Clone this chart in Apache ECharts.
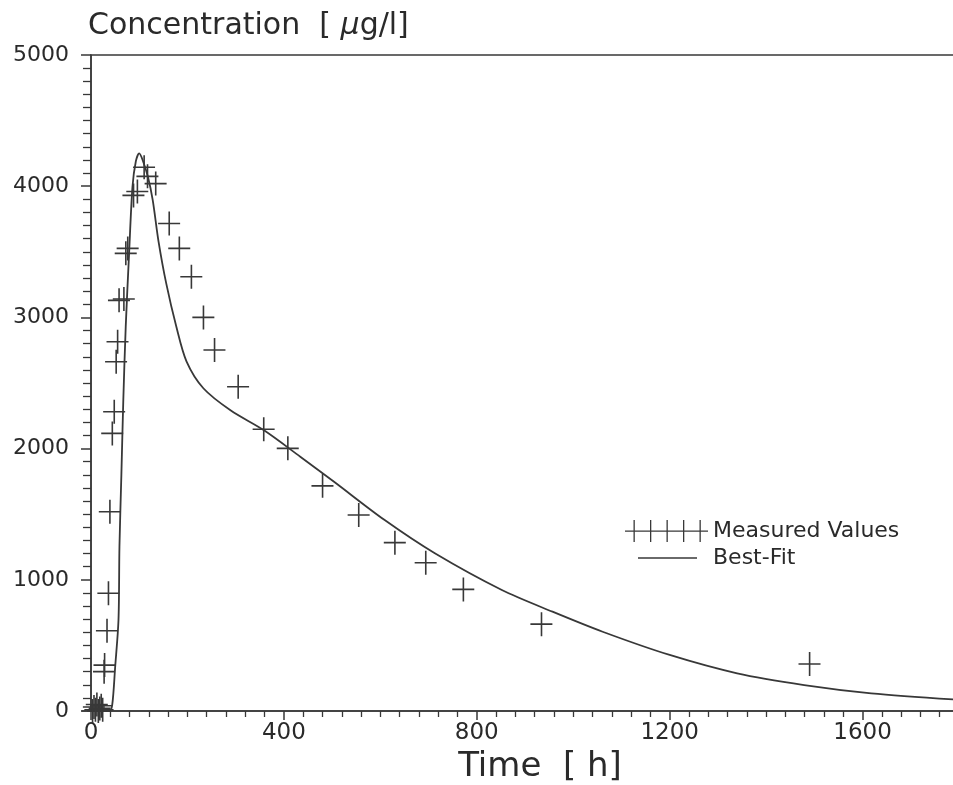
<!DOCTYPE html>
<html>
<head>
<meta charset="utf-8">
<title>Concentration over time</title>
<script src="https://cdn.jsdelivr.net/npm/echarts@6/dist/echarts.min.js"></script>
<style>
  html, body { margin: 0; padding: 0; background: #fff; }
  #main { width: 953px; height: 785px; }
</style>
</head>
<body>
<div id="main"></div>
<script>
// measured concentrations (time in h, conc in ug/l)
var measTime = [3, 6, 9, 12, 15, 18, 21, 24, 27, 28, 33, 36, 39, 44, 48, 52, 55, 58, 68, 72, 76,
  88, 96, 110, 117, 134, 162, 183, 208, 233, 256, 305, 358, 408, 480, 555, 630, 694, 772, 934, 1490];
var measConc = [0, 30, 10, 50, 0, 20, 40, 10, 300, 350, 612, 897, 1519, 2116, 2281, 2662, 2814, 3130, 3140, 3488, 3526,
  3930, 3960, 4145, 4075, 4020, 3716, 3526, 3310, 3000, 2751, 2471, 2147, 2002, 1716, 1494, 1283, 1130, 927, 662, 358];

// best-fit curve
var fitTime = [0, 38, 44, 50, 57, 59, 63, 67, 72, 79, 86, 93, 100, 107, 118, 128, 140, 156, 177, 198,
  233, 290, 358, 434, 504, 609, 713, 852, 957, 1061, 1200, 1340, 1479, 1618, 1800];
var fitConc = [0, 0, 46, 330, 693, 1252, 1800, 2370, 2928, 3488, 3995, 4190, 4250, 4200, 4072, 3894, 3580, 3259, 2928, 2665,
  2460, 2290, 2141, 1938, 1747, 1455, 1202, 922, 757, 604, 427, 287, 198, 135, 85];

var xTicks = [0, 1800, 400];   // min, max, interval
var yTicks = [0, 5000, 1000];

var ink = '#383838';
var txt = '#2a2a2a';
var font = 'DejaVu Sans';

var measured = measTime.map(function (t, i) { return [t, measConc[i]]; });
var fit = fitTime.map(function (t, i) { return [t, fitConc[i]]; });

// plus sign made of two thin bars
var crossPath = 'path://M10.3,0h1.6v24h-1.6zM0,11.2h22v1.6h-22z';
var legendCross = 'path://M0,10.4h83v1.3h-83z' +
  'M8.5,0h1.3v22h-1.3zM25,0h1.3v22h-1.3zM41.5,0h1.3v22h-1.3zM58,0h1.3v22h-1.3zM74.5,0h1.3v22h-1.3z';
var legendLine = 'path://M0,0h59v1.4h-59z';

function plain(v) { return String(v); }

var myChart = echarts.init(document.getElementById('main'));
myChart.setOption({
  backgroundColor: '#fff',
  animation: false,
  textStyle: { fontFamily: font, color: txt },
  grid: {
    // axis runs past the right edge of the picture (1800 sits off-page)
    left: 91, top: 55, width: 868, height: 656,
    outerBoundsMode: 'none',
    show: true, borderColor: ink, borderWidth: 1.5, backgroundColor: 'transparent'
  },
  legend: [
    {
      left: 620, top: 515, itemWidth: 83, itemHeight: 22,
      data: [{ name: 'Measured Values', icon: legendCross }],
      itemStyle: { color: ink },
      textStyle: { fontSize: 22, fontFamily: font, color: txt, padding: [0, 0, 0, 0] }
    },
    {
      left: 633, top: 542, itemWidth: 59, itemHeight: 22,
      data: [{ name: 'Best-Fit', icon: legendLine }],
      itemStyle: { color: ink },
      textStyle: { fontSize: 22, fontFamily: font, color: txt, padding: [0, 0, 0, 11] }
    }
  ],
  xAxis: {
    type: 'value',
    min: xTicks[0], max: xTicks[1], interval: xTicks[2],
    name: 'Time  [ h]',
    nameLocation: 'middle',
    nameGap: 32,
    nameTextStyle: { fontSize: 34, fontFamily: font, color: txt, padding: [0, 0, 0, 30] },
    axisLine: { lineStyle: { color: ink, width: 1.5 } },
    axisTick: { show: true, length: 9, lineStyle: { color: ink, width: 1.5 } },
    minorTick: { show: true, splitNumber: 10, length: 6, lineStyle: { color: ink, width: 1.3 } },
    axisLabel: { fontSize: 23, margin: 11, color: txt, showMaxLabel: false, formatter: plain },
    splitLine: { show: false }
  },
  yAxis: {
    type: 'value',
    min: yTicks[0], max: yTicks[1], interval: yTicks[2],
    name: '{a|Concentration  [ }{m|μ}{a|g/l]}',
    nameLocation: 'end',
    nameGap: 14,
    nameTextStyle: {
      align: 'left', verticalAlign: 'bottom', padding: [0, 0, 0, -3],
      rich: {
        a: { fontSize: 30, fontFamily: font, color: txt },
        m: { fontSize: 30, fontFamily: font, color: txt, fontStyle: 'italic' }
      }
    },
    axisLine: { show: true, lineStyle: { color: ink, width: 1.5 } },
    axisTick: { show: true, length: 10, lineStyle: { color: ink, width: 1.5 } },
    minorTick: { show: true, splitNumber: 10, length: 8, lineStyle: { color: ink, width: 1.3 } },
    axisLabel: { fontSize: 22, margin: 22, color: txt, formatter: plain },
    splitLine: { show: false }
  },
  series: [
    {
      name: 'Measured Values',
      type: 'scatter',
      data: measured,
      symbol: crossPath,
      symbolSize: [22, 24],
      itemStyle: { color: ink, opacity: 1 },
      z: 3
    },
    {
      name: 'Best-Fit',
      type: 'line',
      data: fit,
      showSymbol: false,
      symbol: 'none',
      smooth: 0.3,
      lineStyle: { color: ink, width: 1.8 },
      itemStyle: { color: ink },
      z: 2
    }
  ]
});
</script>
</body>
</html>
